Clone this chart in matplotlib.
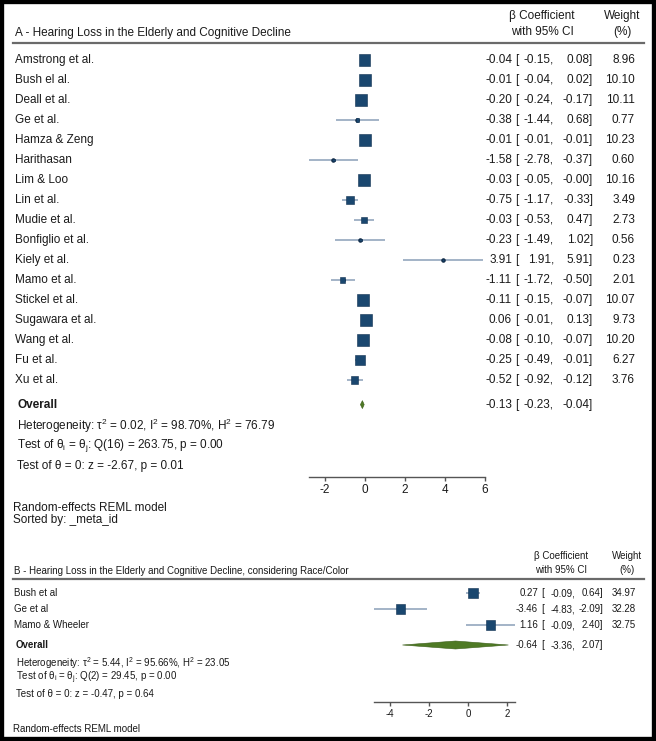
import matplotlib
matplotlib.use("Agg")
import matplotlib.pyplot as plt
import matplotlib.transforms as mtransforms
from matplotlib.patches import Rectangle
import numpy as np

plt.rcParams["font.family"] = ["Liberation Sans", "DejaVu Sans"]
plt.rcParams["mathtext.fontset"] = "custom"
plt.rcParams["mathtext.rm"] = "Liberation Sans"
plt.rcParams["mathtext.it"] = "Liberation Sans:italic"

# panel A data
studies_a = ["Amstrong et al.", "Bush el al.", "Deall et al.", "Ge et al.", "Hamza & Zeng",
             "Harithasan", "Lim & Loo", "Lin et al.", "Mudie et al.", "Bonfiglio et al.",
             "Kiely et al.", "Mamo et al.", "Stickel et al.", "Sugawara et al.", "Wang et al.",
             "Fu et al.", "Xu et al."]
est_a = [-0.04, -0.01, -0.20, -0.38, -0.01, -1.58, -0.03, -0.75, -0.03, -0.23,
         3.91, -1.11, -0.11, 0.06, -0.08, -0.25, -0.52]
lo_a = [-0.15, -0.04, -0.24, -1.44, -0.01, -2.78, -0.05, -1.17, -0.53, -1.49,
        1.91, -1.72, -0.15, -0.01, -0.10, -0.49, -0.92]
hi_a = [0.08, 0.02, -0.17, 0.68, -0.01, -0.37, -0.00, -0.33, 0.47, 1.02,
        5.91, -0.50, -0.07, 0.13, -0.07, -0.01, -0.12]
w_a = [8.96, 10.10, 10.11, 0.77, 10.23, 0.60, 10.16, 3.49, 2.73, 0.56,
       0.23, 2.01, 10.07, 9.73, 10.20, 6.27, 3.76]
overall_a = (-0.13, -0.23, -0.04)
stats_a = ["Heterogeneity: τ$^2$ = 0.02, I$^2$ = 98.70%, H$^2$ = 76.79",
           r"Test of θ$_\mathrm{i}$ = θ$_\mathrm{j}$: Q(16) = 263.75, p = 0.00",
           "Test of θ = 0: z = -2.67, p = 0.01"]
ticks_a = [-2, 0, 2, 4, 6]

# panel B data
studies_b = ["Bush et al", "Ge et al", "Mamo & Wheeler"]
est_b = [0.27, -3.46, 1.16]
lo_b = [-0.09, -4.83, -0.09]
hi_b = [0.64, -2.09, 2.40]
w_b = [34.97, 32.28, 32.75]
overall_b = (-0.64, -3.36, 2.07)
stats_b = ["Heterogeneity: τ$^2$ = 5.44, I$^2$ = 95.66%, H$^2$ = 23.05",
           r"Test of θ$_\mathrm{i}$ = θ$_\mathrm{j}$: Q(2) = 29.45, p = 0.00",
           "Test of θ = 0: z = -0.47, p = 0.64"]
ticks_b = [-4, -2, 0, 2]

W, H = 656, 741
SQ = "#1a476f"
CI = "#8a9fb8"
DIA = "#4f7a25"
TXT = "#1a1a1a"
RULE = "#6a6a6a"

fig = plt.figure(figsize=(W / 100, H / 100), dpi=100)


def fx(px):
    return px / W


def fy(py):
    return 1 - py / H


def add_px_axes(left, top, right, bottom):
    return fig.add_axes([fx(left), fy(bottom), (right - left) / W, (bottom - top) / H])


def forest(ax, est, lo, hi, w, overall, gap, side_max, w_max, dia_half, ticks, fs):
    est, lo, hi, w = map(np.asarray, (est, lo, hi, w))
    rows = np.arange(len(est))
    ax.hlines(rows, lo, hi, color=CI, lw=1.1, zorder=1)
    ax.scatter(est, rows, s=5, marker="o", color="#0d2540", zorder=1.5)
    side_pt = side_max * np.sqrt(w / w_max) * 0.72
    ax.scatter(est, rows, s=side_pt ** 2, marker="s", color=SQ, edgecolor="#0f3050",
               linewidth=0.4, zorder=2)
    e, l, h = overall
    yo = rows[-1] + gap
    ax.fill([l, e, h, e], [yo, yo - dia_half, yo, yo + dia_half], color=DIA,
            ec="#3c5e1b", lw=0.4, zorder=2)
    for s in ["top", "left", "right"]:
        ax.spines[s].set_visible(False)
    ax.spines["bottom"].set_bounds(min(lo.min(), ticks[0]), max(hi.max(), ticks[-1]))
    ax.spines["bottom"].set_color("#555555")
    ax.spines["bottom"].set_linewidth(1.0)
    ax.set_xticks(ticks)
    ax.set_xticklabels([str(t) for t in ticks])
    ax.tick_params(axis="x", length=3, width=1.0, color="#555555", labelsize=fs,
                   labelcolor=TXT, pad=2)
    ax.set_yticks([])
    ax.patch.set_alpha(0)


def fmt(v):
    return f"{v:.2f}"


def table(ax, names, est, lo, hi, w, overall, gap, stats, stat_rows, xs, fs):
    tr = mtransforms.blended_transform_factory(fig.transFigure, ax.transData)
    x_lab, x_est, x_br, x_lo, x_hi, x_w = xs
    rows = list(range(len(names)))
    kw = dict(transform=tr, fontsize=fs, color=TXT, va="center", clip_on=False)
    for r, n, e, l, h, ww in zip(rows, names, est, lo, hi, w):
        ax.text(fx(x_lab), r, n, ha="left", **kw)
        ax.text(fx(x_est), r, fmt(e), ha="right", **kw)
        ax.text(fx(x_br), r, "[", ha="left", **kw)
        ax.text(fx(x_lo), r, fmt(l) + ",", ha="right", **kw)
        ax.text(fx(x_hi), r, fmt(h) + "]", ha="right", **kw)
        ax.text(fx(x_w), r, f"{ww:.2f}", ha="right", **kw)
    yo = rows[-1] + gap
    e, l, h = overall
    ax.text(fx(x_lab + 2), yo, "Overall", ha="left", fontweight="bold", **kw)
    ax.text(fx(x_est), yo, fmt(e), ha="right", **kw)
    ax.text(fx(x_br), yo, "[", ha="left", **kw)
    ax.text(fx(x_lo), yo, fmt(l) + ",", ha="right", **kw)
    ax.text(fx(x_hi), yo, fmt(h) + "]", ha="right", **kw)
    for s, yr in zip(stats, stat_rows):
        ax.text(fx(x_lab + 2), yr, s, ha="left", **kw)


# ---------- panel A ----------
ax_a = add_px_axes(300, 48, 500, 477)
ax_a.set_xlim(-3.25, 6.75)
ax_a.set_ylim((477 - 60) / 20, (48 - 60) / 20)
forest(ax_a, est_a, lo_a, hi_a, w_a, overall_a, 1.23, 12.0, 10.23, 0.2, ticks_a, 8.5)
table(ax_a, studies_a, est_a, lo_a, hi_a, w_a, overall_a, 1.23, stats_a,
      [(426 - 60) / 20, (446 - 60) / 20, (466 - 60) / 20],
      (15, 512, 515, 554, 593, 635), 8.5)

fig.text(fx(15), fy(33), "A - Hearing Loss in the Elderly and Cognitive Decline",
         fontsize=8.5, color=TXT, ha="left", va="center")
fig.text(fx(542), fy(16), "β Coefficient", fontsize=8.5, color=TXT, ha="center", va="center")
fig.text(fx(542), fy(32), "with 95% CI", fontsize=8.5, color=TXT, ha="center", va="center")
fig.text(fx(622), fy(16), "Weight", fontsize=8.5, color=TXT, ha="center", va="center")
fig.text(fx(622), fy(32), "(%)", fontsize=8.5, color=TXT, ha="center", va="center")
fig.add_artist(plt.Line2D([fx(13), fx(644)], [fy(43), fy(43)], color=RULE, lw=1.6))
fig.text(fx(13), fy(508), "Random-effects REML model", fontsize=8.5, color=TXT,
         ha="left", va="center")
fig.text(fx(13), fy(520), "Sorted by: _meta_id", fontsize=8.5, color=TXT,
         ha="left", va="center")

# ---------- panel B ----------
ax_b = add_px_axes(360, 583, 530, 702)
ax_b.set_xlim((360 - 468) / 19.5, (530 - 468) / 19.5)
ax_b.set_ylim((702 - 593) / 16, (583 - 593) / 16)
forest(ax_b, est_b, lo_b, hi_b, w_b, overall_b, 1.25, 10.0, 34.97, 0.25, ticks_b, 7)
table(ax_b, studies_b, est_b, lo_b, hi_b, w_b, overall_b, 1.25, stats_b,
      [(663 - 593) / 16, (678 - 593) / 16, (694 - 593) / 16],
      (14, 538, 541, 575, 603, 636), 7)

fig.text(fx(14), fy(571), "B - Hearing Loss in the Elderly and Cognitive Decline, considering Race/Color",
         fontsize=7, color=TXT, ha="left", va="center")
fig.text(fx(561), fy(556), "β Coefficient", fontsize=7, color=TXT, ha="center", va="center")
fig.text(fx(561), fy(570), "with 95% CI", fontsize=7, color=TXT, ha="center", va="center")
fig.text(fx(627), fy(556), "Weight", fontsize=7, color=TXT, ha="center", va="center")
fig.text(fx(627), fy(570), "(%)", fontsize=7, color=TXT, ha="center", va="center")
fig.add_artist(plt.Line2D([fx(13), fx(644)], [fy(579), fy(579)], color=RULE, lw=1.6))
fig.text(fx(13), fy(729), "Random-effects REML model", fontsize=7, color=TXT,
         ha="left", va="center")

# black frame round the whole picture
fig.patches.append(Rectangle((0, 0), 1, 1, transform=fig.transFigure, fill=False,
                             lw=6, ec="black"))

fig.savefig("out.png", dpi=100)
